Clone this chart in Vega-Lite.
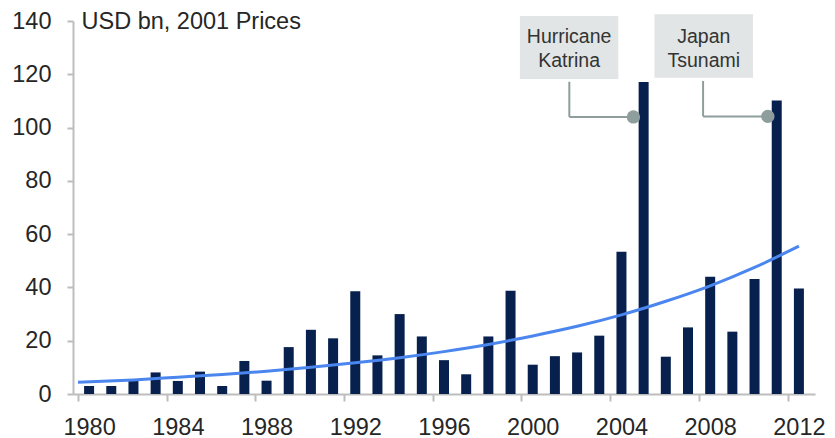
{
  "$schema": "https://vega.github.io/schema/vega-lite/v6.json",
  "width": 742,
  "height": 373,
  "autosize": {"type": "none"},
  "padding": {"left": 73, "top": 21, "right": 20, "bottom": 44},
  "background": "white",
  "config": {"font": "Liberation Sans", "view": {"stroke": null}},
  "datasets": {
    "losses": [
      {"year": 1980, "loss": 3}, {"year": 1981, "loss": 3}, {"year": 1982, "loss": 5},
      {"year": 1983, "loss": 8.1}, {"year": 1984, "loss": 4.9}, {"year": 1985, "loss": 8.4},
      {"year": 1986, "loss": 3}, {"year": 1987, "loss": 12.4}, {"year": 1988, "loss": 5},
      {"year": 1989, "loss": 17.6}, {"year": 1990, "loss": 24.1}, {"year": 1991, "loss": 20.9},
      {"year": 1992, "loss": 38.6}, {"year": 1993, "loss": 14.5}, {"year": 1994, "loss": 30},
      {"year": 1995, "loss": 21.6}, {"year": 1996, "loss": 12.7}, {"year": 1997, "loss": 7.4},
      {"year": 1998, "loss": 21.6}, {"year": 1999, "loss": 38.8}, {"year": 2000, "loss": 11},
      {"year": 2001, "loss": 14.2}, {"year": 2002, "loss": 15.6}, {"year": 2003, "loss": 21.9},
      {"year": 2004, "loss": 53.4}, {"year": 2005, "loss": 117.1}, {"year": 2006, "loss": 14},
      {"year": 2007, "loss": 25}, {"year": 2008, "loss": 44}, {"year": 2009, "loss": 23.4},
      {"year": 2010, "loss": 43.2}, {"year": 2011, "loss": 110.2}, {"year": 2012, "loss": 39.6}
    ],
    "trend": [
      {"year": 1979.5, "value": 4.4}, {"year": 1982, "value": 5.3}, {"year": 1984, "value": 6.3},
      {"year": 1986, "value": 7.3}, {"year": 1988, "value": 8.5}, {"year": 1990, "value": 10.0},
      {"year": 1992, "value": 11.7}, {"year": 1994, "value": 13.6}, {"year": 1996, "value": 15.9},
      {"year": 1998, "value": 18.6}, {"year": 2000, "value": 21.8}, {"year": 2002, "value": 25.4},
      {"year": 2004, "value": 29.7}, {"year": 2006, "value": 34.8}, {"year": 2008, "value": 40.6},
      {"year": 2010, "value": 47.5}, {"year": 2012, "value": 55.5}
    ],
    "boxes": [
      {"label": "Hurricane\nKatrina", "x1": 1999.42, "x2": 2003.86, "y1": 118.2, "y2": 141.9, "xc": 2001.64, "yt": 131.6},
      {"label": "Japan\nTsunami", "x1": 2005.49, "x2": 2009.93, "y1": 118.7, "y2": 142.5, "xc": 2007.71, "yt": 131.6}
    ],
    "leaders": [
      {"x1": 2001.65, "y1": 117.2, "x2": 2001.65, "y2": 104},
      {"x1": 2001.65, "y1": 104, "x2": 2004.54, "y2": 104},
      {"x1": 2007.68, "y1": 117.5, "x2": 2007.68, "y2": 104.2},
      {"x1": 2007.68, "y1": 104.2, "x2": 2010.6, "y2": 104.2}
    ],
    "dots": [
      {"x": 2004.54, "y": 104},
      {"x": 2010.6, "y": 104.2}
    ]
  },
  "layer": [
    {
      "data": {"name": "losses"},
      "mark": {"type": "bar", "width": 10, "color": "#08204d"},
      "encoding": {
        "x": {
          "field": "year", "type": "quantitative",
          "scale": {"domain": [1979.5, 2012.5], "nice": false, "zero": false},
          "axis": {
            "title": null, "grid": false,
            "values": [1980, 1984, 1988, 1992, 1996, 2000, 2004, 2008, 2012],
            "format": "d",
            "tickOffset": -11.24, "labelOffset": 11.24,
            "tickSize": 7, "tickColor": "#bdbdbd", "tickWidth": 2,
            "domainColor": "#bdbdbd", "domainWidth": 2,
            "labelFontSize": 23.5, "labelColor": "#262626", "labelPadding": 14,
            "labelFlush": false, "labelOverlap": false
          }
        },
        "y": {
          "field": "loss", "type": "quantitative",
          "scale": {"domain": [0, 140], "nice": false},
          "axis": {
            "title": "USD bn, 2001 Prices",
            "titleAngle": 0, "titleAlign": "left", "titleBaseline": "alphabetic",
            "titleX": 8, "titleY": 7, "titleFontSize": 23.5, "titleFontWeight": "normal",
            "titleColor": "#262626",
            "grid": false,
            "values": [0, 20, 40, 60, 80, 100, 120, 140],
            "tickSize": 6, "tickColor": "#bdbdbd", "tickWidth": 2,
            "domainColor": "#bdbdbd", "domainWidth": 2,
            "labelFontSize": 23.5, "labelColor": "#262626", "labelPadding": 16,
            "labelFlush": false
          }
        }
      }
    },
    {
      "data": {"name": "trend"},
      "mark": {"type": "line", "color": "#4a86ee", "strokeWidth": 3, "interpolate": "monotone"},
      "encoding": {
        "x": {"field": "year", "type": "quantitative"},
        "y": {"field": "value", "type": "quantitative"}
      }
    },
    {
      "data": {"name": "leaders"},
      "mark": {"type": "rule", "color": "#8e9e9c", "strokeWidth": 2},
      "encoding": {
        "x": {"field": "x1", "type": "quantitative"},
        "x2": {"field": "x2"},
        "y": {"field": "y1", "type": "quantitative"},
        "y2": {"field": "y2"}
      }
    },
    {
      "data": {"name": "dots"},
      "mark": {"type": "point", "filled": true, "opacity": 1, "color": "#8e9e9c", "size": 180},
      "encoding": {
        "x": {"field": "x", "type": "quantitative"},
        "y": {"field": "y", "type": "quantitative"}
      }
    },
    {
      "data": {"name": "boxes"},
      "mark": {"type": "rect", "color": "#e1e5e5"},
      "encoding": {
        "x": {"field": "x1", "type": "quantitative"},
        "x2": {"field": "x2"},
        "y": {"field": "y1", "type": "quantitative"},
        "y2": {"field": "y2"}
      }
    },
    {
      "data": {"name": "boxes"},
      "mark": {"type": "text", "align": "center", "baseline": "alphabetic", "fontSize": 19.5, "lineHeight": 23.5, "lineBreak": "\n", "color": "#333333"},
      "encoding": {
        "x": {"field": "xc", "type": "quantitative"},
        "y": {"field": "yt", "type": "quantitative"},
        "text": {"field": "label"}
      }
    }
  ]
}
